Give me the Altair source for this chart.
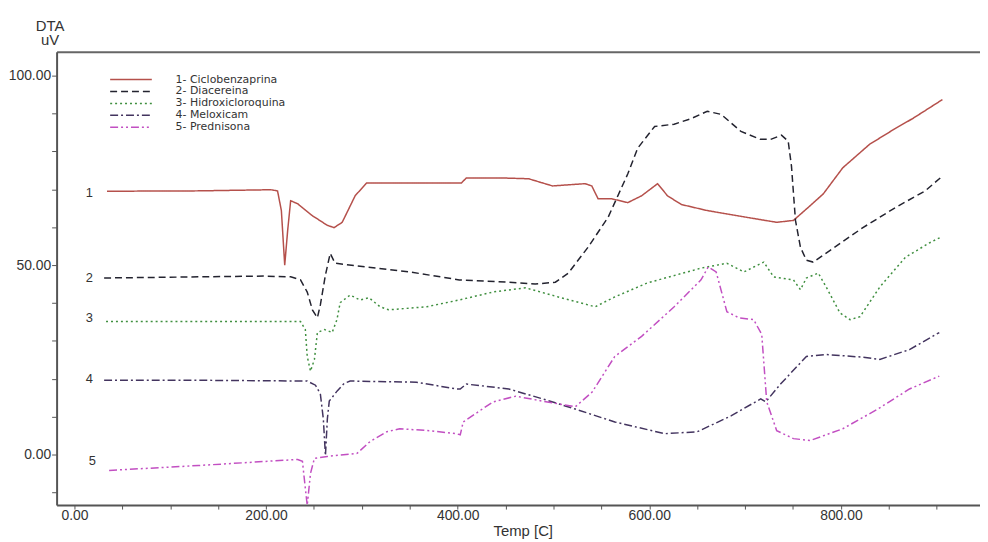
import altair as alt
import pandas as pd

names = ["1- Ciclobenzaprina", "2- Diacereina", "3- Hidroxicloroquina", "4- Meloxicam", "5- Prednisona"]
colors = ["#b5504b", "#23232f", "#3f8f3f", "#43345f", "#c24fc2"]
dashes = [[1, 0], [7, 4], [2, 3], [8, 3, 2, 3], [8, 3, 2, 3, 2, 3]]

# 1- Ciclobenzaprina
t1 = [34, 129, 205, 212, 216, 219.5, 222.6, 225.7, 233, 248, 264, 271, 279.5, 293, 305, 357, 404, 409, 447, 474,
      499, 533, 540, 546.6, 561, 577.6, 592, 608.7, 619, 633.5, 660.5, 702, 733, 750.5, 768, 781.6, 802, 830, 857, 875, 906]
v1 = [69.5, 69.6, 69.9, 69.6, 64.4, 50.0, 59.2, 67.0, 66.2, 63.1, 60.5, 59.9, 61.3, 68.3, 71.7, 71.7, 71.7, 73.0, 73.0, 72.8,
      70.9, 71.5, 70.9, 67.5, 67.5, 66.5, 68.3, 71.5, 68.3, 66.0, 64.4, 62.6, 61.3, 61.8, 65.7, 68.8, 75.7, 81.9, 86.1, 88.7, 93.7]

# 2- Diacereina
t2 = [31, 129.4, 198.8, 225.7, 236, 243, 248.4, 253.6, 256.7, 262, 267, 272, 305, 350, 401.7, 453.4, 481, 502, 515.5, 536,
      557, 577.6, 588, 605.6, 626, 644, 660.5, 675, 695.7, 716, 726.7, 738, 745, 748.4, 752.6, 757.8, 764, 771, 788.8, 823,
      857, 888, 903.7]
v2 = [46.6, 46.9, 47.1, 46.9, 46.1, 42.9, 38.2, 36.1, 39.5, 47.4, 53.1, 50.5, 49.5, 48.2, 46.1, 45.5, 45.0, 45.5, 47.9, 54.7,
      62.6, 74.1, 80.9, 86.6, 87.2, 88.7, 90.6, 89.8, 85.3, 83.2, 83.2, 84.3, 82.7, 76.2, 61.8, 54.7, 51.3, 50.8, 53.9, 59.9,
      65.2, 69.6, 73.0]

# 3- Hidroxicloroquina
t3 = [33, 129.4, 236, 241, 243, 246.4, 250.5, 253.6, 261, 269, 274, 277.4, 287.8, 298, 307.5, 319, 328, 367.5, 401.7, 436.9,
      471, 505, 543.5, 564, 598, 654, 681, 698.8, 719.5, 729.8, 750.5, 757.8, 764, 776.4, 784.7, 799, 809.5, 820, 840.6,
      867.5, 892, 903.7]
v3 = [35.1, 35.1, 35.1, 33.0, 25.9, 22.0, 25.1, 32.2, 33.0, 32.2, 35.6, 40.1, 42.1, 40.8, 41.4, 39.0, 38.2, 39.0, 40.8, 42.9,
      44.0, 41.6, 39.0, 41.6, 45.3, 49.2, 50.5, 48.2, 50.8, 46.9, 46.1, 43.5, 46.6, 47.9, 44.2, 37.4, 35.6, 36.4, 44.2,
      52.1, 55.8, 57.3]

# 4- Meloxicam
t4 = [31, 129.4, 243, 251.6, 256.7, 259.8, 262, 264, 266, 274.3, 281.6, 287.8, 357, 398.6, 402.7, 409, 453.4, 488.6, 522.8,
      564, 616, 650, 685.3, 716.4, 721.5, 737, 764, 784.7, 823, 840.6, 871.6, 902.7]
v4 = [19.6, 19.6, 19.4, 18.3, 16.0, 9.4, -0.3, 9.4, 14.1, 16.8, 18.8, 19.4, 19.1, 17.3, 17.3, 18.6, 17.3, 14.7, 12.0,
      8.6, 5.5, 6.0, 10.2, 14.7, 13.9, 18.6, 25.9, 26.4, 25.7, 25.1, 27.7, 32.2]

# 5- Prednisona
t5 = [36.2, 129.4, 233, 238, 241, 243, 246.4, 250.5, 264, 295, 308.5, 326, 339.5, 370.6, 398.6, 402.7, 405.8, 436.9, 460.7,
      488.6, 522.8, 540.4, 564, 592, 626, 654, 661.5, 669.8, 681, 693.6, 709, 717.4, 722.6, 733, 750.5, 768, 802, 838.5,
      871.6, 902.7]
v5 = [-4.2, -2.9, -1.3, -1.8, -8.9, -13.4, -5.0, -1.0, -0.5, 0.3, 3.4, 6.0, 6.8, 6.3, 5.5, 5.2, 8.6, 13.9, 15.4,
      14.1, 12.6, 16.5, 25.9, 31.2, 39.0, 46.1, 49.5, 48.2, 37.7, 36.1, 35.6, 31.7, 13.9, 6.3, 4.2, 3.7, 6.8, 12.0,
      17.3, 20.7]

# curve number labels
lab_text = ["1", "2", "3", "4", "5"]
lab_t = [15.5, 15.5, 15.5, 15.5, 18.6]
lab_v = [69.1, 46.6, 36.1, 19.9, -1.8]

rows = []
for name, ts, vs in zip(names, [t1, t2, t3, t4, t5], [v1, v2, v3, v4, v5]):
    for i, (t, v) in enumerate(zip(ts, vs)):
        rows.append({"serie": name, "temp": t, "dta": v, "ord": i})
df = pd.DataFrame(rows)
labels_df = pd.DataFrame({"txt": lab_text, "temp": lab_t, "dta": lab_v})

# plot area runs to the right edge of the page, as in the reference (frame continues past the picture)
W, H = 931, 457
XDOM = [-18.6, 945.2]
YDOM = [-13.35, 106.3]
AX_FONT = "Liberation Sans, Arial, sans-serif"

xscale = alt.Scale(domain=XDOM, nice=False, zero=False)
yscale = alt.Scale(domain=YDOM, nice=False, zero=False)

# legend symbol: a horizontal stroke drawn as custom path (size 144 -> unit = 6 px)
legend = alt.Legend(
    orient="none", legendX=53, legendY=21, title=None,
    symbolType="M-1,0H6", symbolSize=144, symbolStrokeWidth=1.5,
    labelFontSize=11, labelFont="DejaVu Sans, sans-serif", labelColor="#333",
    labelOffset=53, rowPadding=0, padding=0,
)

x_axis = alt.Axis(
    title="Temp [C]", values=list(range(0, 901, 50)),
    labelExpr="datum.value % 200 == 0 ? format(datum.value, '.2f') : ''",
    grid=False, tickSize=4, labelPadding=0, labelFont=AX_FONT, labelFontSize=14, labelColor="#333",
    domainColor="#555", domainWidth=2, tickColor="#555",
    titleFont=AX_FONT, titleFontSize=15, titleFontWeight="normal", titleColor="#333",
    titlePadding=1, titleX=470,
)
top_axis = alt.Axis(orient="top", labels=False, ticks=False, grid=False, title=None,
                    domainColor="#666", domainWidth=2)
y_axis = alt.Axis(
    orient="left", domain=True, labels=True, ticks=True,
    title=["DTA", "uV"], values=list(range(-10, 101, 10)),
    labelExpr="datum.value % 50 == 0 ? format(datum.value, '.2f') : ''",
    grid=False, tickSize=5, labelPadding=1, labelFont=AX_FONT, labelFontSize=14, labelColor="#333",
    domainColor="#555", domainWidth=2, tickColor="#555",
    titleFont=AX_FONT, titleFontSize=15, titleFontWeight="normal", titleColor="#333",
    titleAngle=0, titleAlign="center", titleBaseline="top", titleX=-7, titleY=-34, titleLineHeight=15,
)

lines = alt.Chart(df).mark_line(strokeWidth=1.5, clip=True).encode(
    x=alt.X("temp:Q", scale=xscale, axis=x_axis),
    y=alt.Y("dta:Q", scale=yscale, axis=y_axis),
    color=alt.Color("serie:N", scale=alt.Scale(domain=names, range=colors), legend=legend),
    strokeDash=alt.StrokeDash("serie:N", scale=alt.Scale(domain=names, range=dashes), legend=legend),
    order="ord:Q",
)

nums = alt.Chart(labels_df).mark_text(font=AX_FONT, fontSize=13, color="#333").encode(
    x=alt.X("temp:Q", scale=xscale, axis=top_axis),
    y=alt.Y("dta:Q", scale=yscale, axis=y_axis),
    text="txt:N",
)

chart = alt.layer(lines, nums).resolve_axis(x="independent").properties(
    width=W, height=H,
    autosize=alt.AutoSizeParams(type="none"),
    padding={"left": 49, "top": 42, "right": 0, "bottom": 35},
).configure(background="white").configure_view(strokeWidth=0, stroke="transparent")

chart.save("out.html", embed_options={"renderer": "svg", "actions": False})
